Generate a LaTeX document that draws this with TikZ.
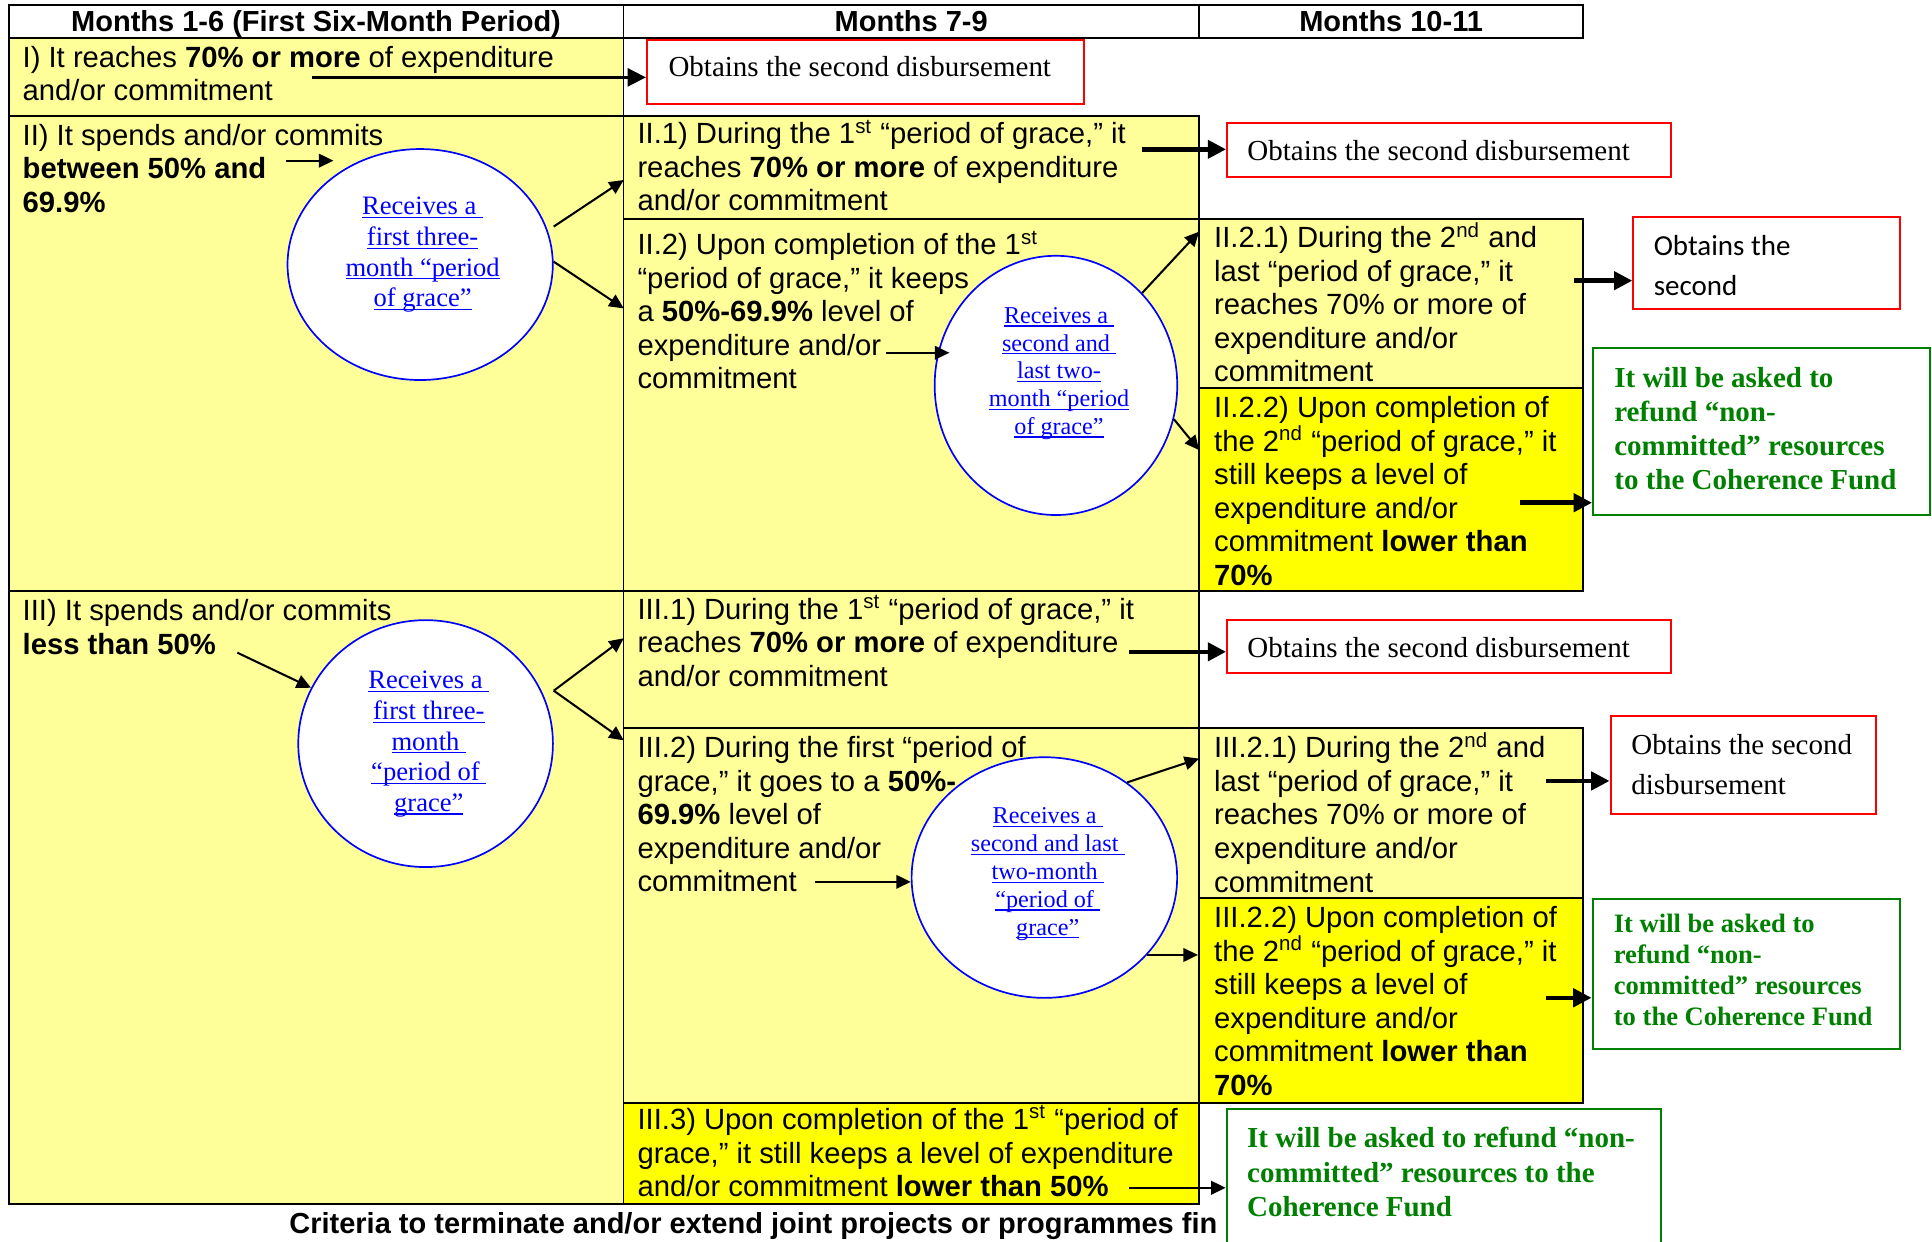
\documentclass[tikz,border=0pt]{standalone}
\usepackage{fontspec}
\setmainfont{Liberation Serif}
\setsansfont{Liberation Sans}
\newfontfamily\calibrifont{Carlito}
\usepackage{tikz}
\usetikzlibrary{shapes.geometric, arrows.meta, fit}
\definecolor{paleyellow}{RGB}{255, 255, 153}
\definecolor{brightyellow}{RGB}{255, 255, 0}
\definecolor{obtainred}{RGB}{255, 0, 0}
\definecolor{refundgreen}{RGB}{0, 128, 0}
\definecolor{graceblue}{RGB}{0, 0, 255}
\newsavebox{\gracebox}
\newcommand{\gul}[1]{\sbox{\gracebox}{#1}\rlap{\rule[-1.4pt]{\wd\gracebox}{0.55pt}}\usebox{\gracebox}}

\begin{document}
\begin{tikzpicture}[x=0.51pt, y=-0.51pt,
    cell/.style={draw=black, line width=0.8pt, inner sep=0pt},
    celltext/.style={font=\sffamily\fontsize{12.1}{13.9}\selectfont, align=left, inner sep=0pt, anchor=north west},
    hdrtext/.style={font=\sffamily\bfseries\fontsize{12}{13.9}\selectfont, inner sep=0pt, anchor=base},
    grace/.style={ellipse, draw=graceblue, line width=0.7pt, fill=white, inner sep=0pt},
    gracetext/.style={text=graceblue, align=center, inner sep=0pt, anchor=north},
    obtainbox/.style={draw=obtainred, line width=0.8pt, fill=white, inner sep=0pt},
    obtaintext/.style={font=\fontsize{12}{16.2}\selectfont, inner sep=0pt},
    refundbox/.style={draw=refundgreen, line width=0.8pt, fill=white, inner sep=0pt},
    refundtext/.style={text=refundgreen, font=\bfseries\fontsize{12}{14.1}\selectfont, align=left, inner sep=0pt, anchor=north west},
    thinarrow/.style={-{Triangle[length=6pt, width=5.6pt]}, line width=0.85pt},
    boldarrow/.style={-{Triangle[length=7.6pt, width=7.4pt]}, line width=1.9pt}]

        % Canvas
        \fill[white] (0,0) rectangle (1568,1008);
        \useasboundingbox (0,0) rectangle (1568,1008);

        % Header row
        \node[cell, fill=white, fit={(7,4) (506,31)}] (h1) {};
        \node[cell, fill=white, fit={(506,4) (973,31)}] (h2) {};
        \node[cell, fill=white, fit={(973,4) (1285,31)}] (h3) {};
        \node[hdrtext] (h1t) at (256.5,25.5) {Months 1-6 (First Six-Month Period)};
        \node[hdrtext] (h2t) at (739.5,25.5) {Months 7-9};
        \node[hdrtext] (h3t) at (1129,25.5) {Months 10-11};

        % Row I
        \node[cell, fill=paleyellow, fit={(7,31) (506,94)}] (c1) {};
        \node[celltext] (t1) at (18,37) {I) It reaches \textbf{70\% or more} of expenditure\\and/or commitment};

        % Row II
        \node[cell, fill=paleyellow, fit={(7,94) (506,480)}] (c2) {};
        \node[cell, fill=paleyellow, fit={(506,94) (973,178)}] (c21) {};
        \node[cell, fill=paleyellow, fit={(506,178) (973,480)}] (c22) {};
        \node[cell, fill=paleyellow, fit={(973,178) (1285,315)}] (c221) {};
        \node[cell, fill=brightyellow, fit={(973,315) (1285,480)}] (c222) {};
        \node[celltext] (t2) at (18,100.4) {II) It spends and/or commits\\\textbf{between 50\% and}\\\textbf{69.9\%}};
        \node[celltext] (t21) at (517,97) {II.1) During the 1\textsuperscript{st} “period of grace,” it\\reaches \textbf{70\% or more} of expenditure\\and/or commitment};
        \node[celltext] (t22) at (517,187) {II.2) Upon completion of the 1\textsuperscript{st}\\“period of grace,” it keeps\\a \textbf{50\%-69.9\%} level of\\expenditure and/or\\commitment};
        \node[celltext] (t221) at (985,180) {II.2.1) During the 2\textsuperscript{nd} and\\last “period of grace,” it\\reaches 70\% or more of\\expenditure and/or\\commitment};
        \node[celltext] (t222) at (985,321.2) {II.2.2) Upon completion of\\the 2\textsuperscript{nd} “period of grace,” it\\still keeps a level of\\expenditure and/or\\commitment \textbf{lower than}\\\textbf{70\%}};

        % Row III
        \node[cell, fill=paleyellow, fit={(7,480) (506,977)}] (c3) {};
        \node[cell, fill=paleyellow, fit={(506,480) (973,591)}] (c31) {};
        \node[cell, fill=paleyellow, fit={(506,591) (973,895)}] (c32) {};
        \node[cell, fill=paleyellow, fit={(973,591) (1285,729)}] (c321) {};
        \node[cell, fill=brightyellow, fit={(973,729) (1285,895)}] (c322) {};
        \node[cell, fill=brightyellow, fit={(506,895) (973,977)}] (c33) {};
        \node[celltext] (t3) at (18,486.2) {III) It spends and/or commits\\\textbf{less than 50\%}};
        \node[celltext] (t31) at (517,483) {III.1) During the 1\textsuperscript{st} “period of grace,” it\\reaches \textbf{70\% or more} of expenditure\\and/or commitment};
        \node[celltext] (t32) at (517,597.2) {III.2) During the first “period of\\grace,” it goes to a \textbf{50\%-}\\\textbf{69.9\%} level of\\expenditure and/or\\commitment};
        \node[celltext] (t321) at (985,594) {III.2.1) During the 2\textsuperscript{nd} and\\last “period of grace,” it\\reaches 70\% or more of\\expenditure and/or\\commitment};
        \node[celltext] (t322) at (985,735.2) {III.2.2) Upon completion of\\the 2\textsuperscript{nd} “period of grace,” it\\still keeps a level of\\expenditure and/or\\commitment \textbf{lower than}\\\textbf{70\%}};
        \node[celltext] (t33) at (517,897) {III.3) Upon completion of the 1\textsuperscript{st} “period of\\grace,” it still keeps a level of expenditure\\and/or commitment \textbf{lower than 50\%}};

        % Periods of grace
        \node[grace, minimum width=109.8pt, minimum height=95.6pt] (g1) at (341,214.7) {};
        \node[gracetext, font=\fontsize{11}{12.65}\selectfont] (g1t) at (343,159.8) {\gul{Receives a\ }\\\gul{first three-}\\\gul{month “period}\\\gul{of grace”}};
        \node[grace, minimum width=100.4pt, minimum height=107.3pt] (g2) at (857,312.8) {};
        \node[gracetext, font=\fontsize{10}{11.5}\selectfont] (g2t) at (859.5,249) {\gul{Receives a\ }\\\gul{second and\ }\\\gul{last two-}\\\gul{month “period}\\\gul{of grace”}};
        \node[grace, minimum width=105.4pt, minimum height=102.2pt] (g3) at (345.4,603.5) {};
        \node[gracetext, font=\fontsize{11}{12.65}\selectfont] (g3t) at (348,544.5) {\gul{Receives a\ }\\\gul{first three-}\\\gul{month\ }\\\gul{“period of\ }\\\gul{grace”}};
        \node[grace, minimum width=109.9pt, minimum height=99.6pt] (g4) at (847.6,712.2) {};
        \node[gracetext, font=\fontsize{10}{11.5}\selectfont] (g4t) at (850.3,655.3) {\gul{Receives a\ }\\\gul{second and last\ }\\\gul{two-month\ }\\\gul{“period of\ }\\\gul{grace”}};

        % Outcomes
        \node[obtainbox, fit={(525,32.5) (879.6,84.4)}] (ob1) {};
        \node[obtaintext, anchor=base west] (ob1t) at (542.2,62.4) {Obtains the second disbursement};
        \node[obtainbox, fit={(995.9,100.1) (1356.3,143.4)}] (ob2) {};
        \node[obtaintext, anchor=base west] (ob2t) at (1012,130.1) {Obtains the second disbursement};
        \node[obtainbox, fit={(1325.6,176.4) (1541.8,250.8)}] (ob3) {};
        \node[obtaintext, font=\calibrifont\fontsize{12}{16.3}\selectfont, align=left, anchor=north west] (ob3t) at (1341.8,191) {Obtains the\\second};
        \node[obtainbox, fit={(995.9,503.3) (1356.3,546.1)}] (ob4) {};
        \node[obtaintext, anchor=base west] (ob4t) at (1012,533.4) {Obtains the second disbursement};
        \node[obtainbox, fit={(1307.1,581.4) (1522.6,660.9)}] (ob5) {};
        \node[obtaintext, align=left, anchor=north west] (ob5t) at (1323.6,596) {Obtains the second\\disbursement};

        \node[refundbox, fit={(1292.9,282.7) (1566,418)}] (rf1) {};
        \node[refundtext] (rf1t) at (1309.8,297.7) {It will be asked to\\refund “non-\\committed” resources\\to the Coherence Fund};
        \node[refundbox, fit={(1292.5,729.4) (1541.8,851)}] (rf2) {};
        \node[refundtext, font=\bfseries\fontsize{11}{12.75}\selectfont] (rf2t) at (1309.4,741.8) {It will be asked to\\refund “non-\\committed” resources\\to the Coherence Fund};

        % Caption, partly hidden by the last box
        \node[font=\sffamily\bfseries\fontsize{12}{13.9}\selectfont, inner sep=0pt, anchor=base west] (caption) at (234.5,1000.8) {Criteria to terminate and/or extend joint projects or programmes fin};
        \node[refundbox, fit={(995.5,900.4) (1348.3,1030)}] (rf3) {};
        \node[refundtext, font=\bfseries\fontsize{12}{14.2}\selectfont] (rf3t) at (1011.8,914.5) {It will be asked to refund “non-\\committed” resources to the\\Coherence Fund};

        % Connections, row I
        \coordinate (sI) at (253,62.8);
        \draw[boldarrow, line width=1.3pt] (sI) -- (sI -| ob1.west);

        % Connections, row II
        \coordinate (sII) at (232,130.4);
        \coordinate (eII) at (270.6,130.4);
        \draw[thinarrow] (sII) -- (eII);
        \coordinate (eg1a) at (506.2,146.1);
        \coordinate (eg1b) at (506.2,250.3);
        \draw[thinarrow] ([yshift=15.7pt]g1.east) -- (eg1a);
        \draw[thinarrow] ([yshift=1.2pt]g1.east) -- (eg1b);
        \coordinate (sII1) at (926.5,121.2);
        \draw[boldarrow] (sII1) -- (sII1 -| ob2.west);
        \coordinate (sII2) at (719.2,286.3);
        \coordinate (eII2) at (770.5,286.3);
        \draw[thinarrow] (sII2) -- (eII2);
        \coordinate (eg2a) at (973.2,188);
        \coordinate (eg2b) at (973.2,365.3);
        \draw[thinarrow] (g2.47) -- (eg2a);
        \draw[thinarrow] (g2.344) -- (eg2b);
        \coordinate (sII21) at (1277.5,227.8);
        \draw[boldarrow] (sII21) -- (sII21 -| ob3.west);
        \coordinate (sII22) at (1234,408);
        \draw[boldarrow] (sII22) -- (sII22 -| rf1.west);

        % Connections, row III
        \coordinate (sIII) at (192.6,529.7);
        \draw[thinarrow] (sIII) -- (g3.154.5);
        \coordinate (vg3) at ([yshift=21.9pt]g3.east);
        \coordinate (eg3a) at (506.2,518);
        \coordinate (eg3b) at (506.2,600.9);
        \draw[thinarrow] (vg3) -- (eg3a);
        \draw[thinarrow] (vg3) -- (eg3b);
        \coordinate (sIII1) at (916.3,529);
        \draw[boldarrow] (sIII1) -- (sIII1 -| ob4.west);
        \coordinate (sIII2) at (661.6,715.7);
        \draw[thinarrow] (sIII2) -- (sIII2 -| g4.west);
        \coordinate (eg4a) at (973.2,615.7);
        \draw[thinarrow] (g4.49) -- (eg4a);
        \draw[thinarrow] (g4.323) -- (g4.323 -| c322.west);
        \coordinate (sIII21) at (1254.5,633.8);
        \draw[boldarrow] (sIII21) -- (sIII21 -| ob5.west);
        \coordinate (sIII22) at (1254.5,809.8);
        \draw[boldarrow] (sIII22) -- (sIII22 -| rf2.west);
        \coordinate (sIII3) at (916.3,964);
        \draw[thinarrow] (sIII3) -- (sIII3 -| rf3.west);

    \end{tikzpicture}
\end{document}
